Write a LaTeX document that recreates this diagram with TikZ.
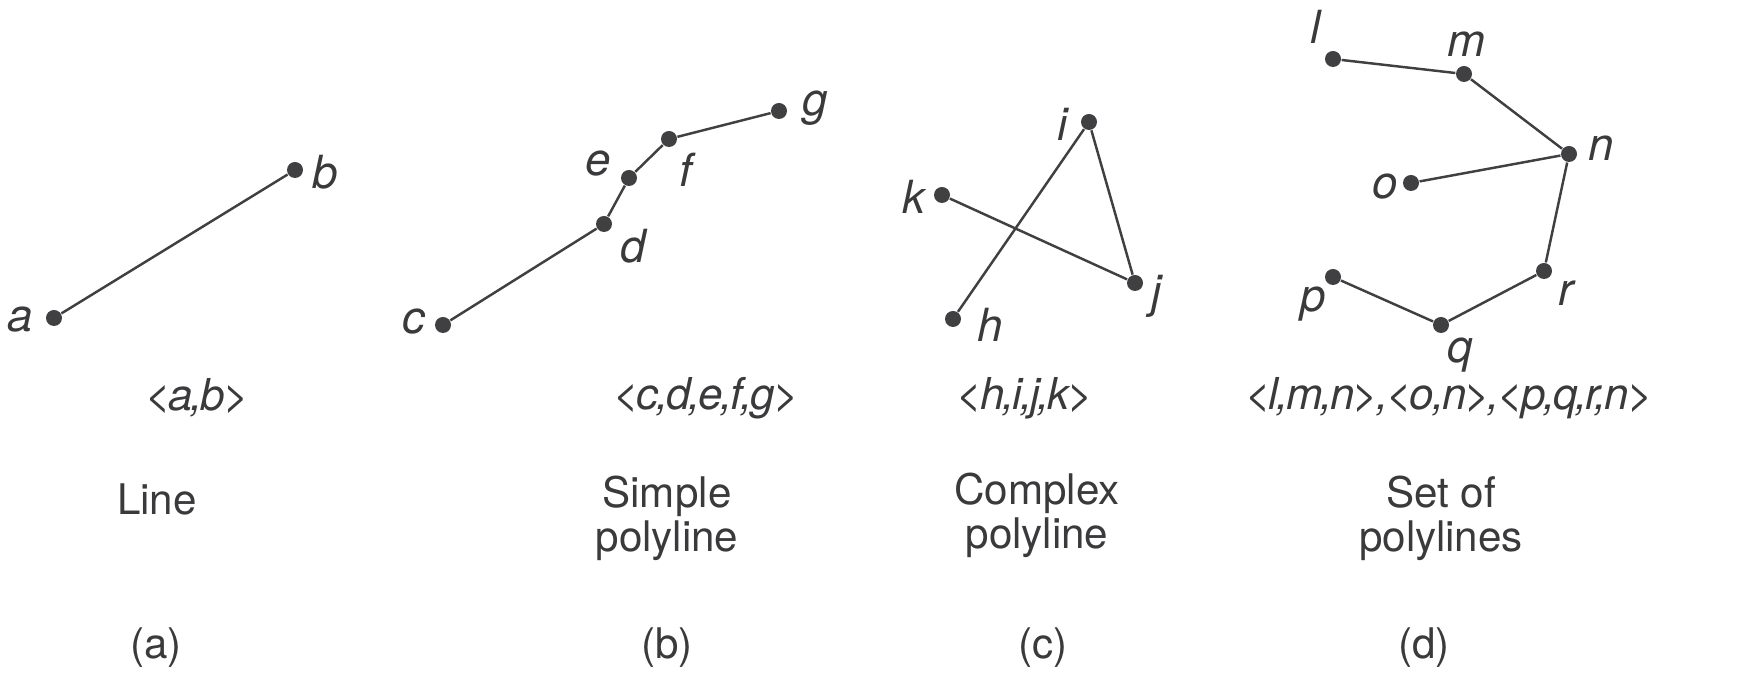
\documentclass[tikz,border=0pt]{standalone}
\usepackage{fontspec}
\setmainfont{TeX Gyre Heros}
\usetikzlibrary{positioning}
\definecolor{inkGray}{RGB}{64,64,66}
\definecolor{textGray}{RGB}{58,58,60}
\tikzset{
  pt/.style={circle, fill=inkGray, inner sep=0pt, minimum size=1.6mm},
  lbl/.style={inner sep=0pt, font=\fontsize{13}{13}\selectfont\itshape, text=textGray},
  seg/.style={draw=inkGray, line width=0.7pt},
  capt/.style={align=center, inner sep=0pt, font=\fontsize{12}{12.5}\selectfont, text=textGray},
  seq/.style={inner sep=0pt, font=\fontsize{12.5}{12}\selectfont\itshape\addfontfeatures{LetterSpace=-5}, text=textGray}
}

\begin{document}
\begin{tikzpicture}[x=0.1mm, y=-0.1mm]
  \useasboundingbox (0,0) rectangle (1758,679);

  % (a) line
  \node[pt] (a) at (54,318) {};
  \node[pt] (b) at (295,170) {};
  \node[lbl] (la) at (20,320) {a};
  \node[lbl] (lb) at (325,172) {b};
  \draw[seg] (a) -- (b);

  % (b) simple polyline
  \node[pt] (c) at (443,325) {};
  \node[pt] (d) at (604,224) {};
  \node[pt] (e) at (629,178) {};
  \node[pt] (f) at (669,139) {};
  \node[pt] (g) at (779,111) {};
  \node[lbl] (lc) at (414,322) {c};
  \node[lbl] (ld) at (633,246) {d};
  \node[lbl] (le) at (598,164) {e};
  \node[lbl] (lf) at (686,170) {f};
  \node[lbl] (lg) at (815,108) {g};
  \draw[seg] (c) -- (d) -- (e) -- (f) -- (g);

  % (c) complex polyline
  \node[pt] (h) at (953,319) {};
  \node[pt] (i) at (1089,122) {};
  \node[pt] (j) at (1135,283) {};
  \node[pt] (k) at (942,195) {};
  \node[lbl] (lh) at (990,325) {h};
  \node[lbl] (li) at (1063,124) {i};
  \node[lbl] (lj) at (1157,296) {j};
  \node[lbl] (lk) at (914,197) {k};
  \draw[seg] (h) -- (i) -- (j) -- (k);

  % (d) set of polylines
  \node[pt] (l) at (1333,59) {};
  \node[pt] (m) at (1464,74) {};
  \node[pt] (n) at (1569,154) {};
  \node[pt] (o) at (1411,183) {};
  \node[pt] (p) at (1333,277) {};
  \node[pt] (q) at (1441,325) {};
  \node[pt] (r) at (1544,271) {};
  \node[lbl] (ll) at (1316,27) {l};
  \node[lbl] (lm) at (1467,44) {m};
  \node[lbl] (ln) at (1601,148) {n};
  \node[lbl] (lo) at (1385,187) {o};
  \node[lbl] (lp) at (1313,304) {p};
  \node[lbl] (lq) at (1460,355) {q};
  \node[lbl] (lr) at (1566,293) {r};
  \draw[seg] (l) -- (m) -- (n);
  \draw[seg] (o) -- (n);
  \draw[seg] (p) -- (q) -- (r) -- (n);

  % captions
  \node[seq] (sa) at (197,398) {<a,b>};
  \node[seq] (sb) at (706,398) {<c,d,e,f,g>};
  \node[seq] (sc) at (1025,398) {<h,i,j,k>};
  \node[seq] (sd) at (1449,398) {<l,m,n>,<o,n>,<p,q,r,n>};
  \node[capt] (na) at (157,499) {Line};
  \node[capt] (nb) at (667,518) {Simple\\polyline};
  \node[capt] (nc) at (1037,515) {Complex\\polyline};
  \node[capt] (nd) at (1441,518) {Set of\\polylines};
  \node[capt] (ta) at (156,648) {(a)};
  \node[capt] (tb) at (667,648) {(b)};
  \node[capt] (tc) at (1043,648) {(c)};
  \node[capt] (td) at (1424,648) {(d)};
\end{tikzpicture}
\end{document}
